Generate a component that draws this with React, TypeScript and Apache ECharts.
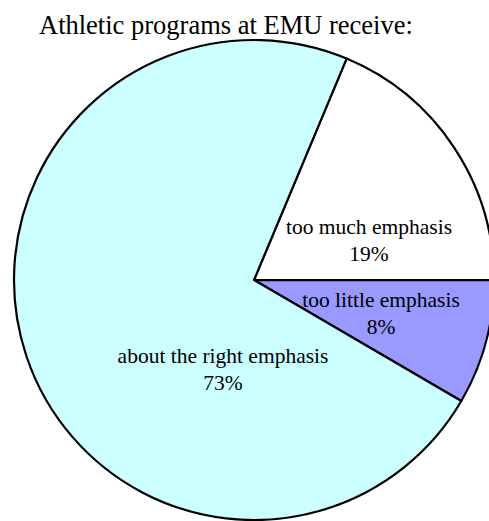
import React, { useEffect, useRef } from "react";
import * as echarts from "echarts";

const TITLE = "Athletic programs at EMU receive:";
const CATEGORIES = ["too much emphasis", "too little emphasis", "about the right emphasis"];
const VALUES = [18.7, 8.4, 72.9];
const COLORS = ["#ffffff", "#9999ff", "#ccffff"];
// label centre offsets from the pie centre (px)
const LABEL_OFFSETS = [
  [115, -40],
  [127, 33],
  [-31, 89],
];

const CX = 254;
const CY = 280;
const R = 240;
const START_ANGLE = 67.3;

export default function App() {
  const ref = useRef<HTMLDivElement>(null);
  useEffect(() => {
    document.body.style.margin = "0";
    const chart = echarts.init(ref.current!, null, { renderer: "svg" });
    const font = "'Liberation Serif', 'Times New Roman', serif";
    chart.setOption({
      animation: false,
      backgroundColor: "#ffffff",
      title: {
        text: TITLE,
        left: 39,
        top: 11,
        padding: 0,
        textStyle: { fontFamily: font, fontSize: 26.5, fontWeight: "normal", color: "#000" },
      },
      series: [
        {
          type: "pie",
          center: [CX, CY],
          radius: [0, R],
          startAngle: START_ANGLE,
          clockwise: true,
          avoidLabelOverlap: false,
          silent: true,
          itemStyle: { borderColor: "#000", borderWidth: 2.2 },
          label: {
            show: true,
            position: "inside",
            formatter: (p: any) => `${p.name}\n${Math.round(p.percent)}%`,
            fontFamily: font,
            fontSize: 21.5,
            lineHeight: 27,
            color: "#000",
            align: "center",
            verticalAlign: "middle",
          },
          labelLine: { show: false },
          labelLayout: (p: any) => {
            const o = LABEL_OFFSETS[p.dataIndex];
            return { x: CX + o[0], y: CY + o[1], align: "center", verticalAlign: "middle" };
          },
          data: CATEGORIES.map((name, i) => ({
            name,
            value: VALUES[i],
            itemStyle: { color: COLORS[i] },
          })),
        },
      ],
    });
    return () => chart.dispose();
  }, []);
  return <div ref={ref} style={{ width: 489, height: 521 }} />;
}
